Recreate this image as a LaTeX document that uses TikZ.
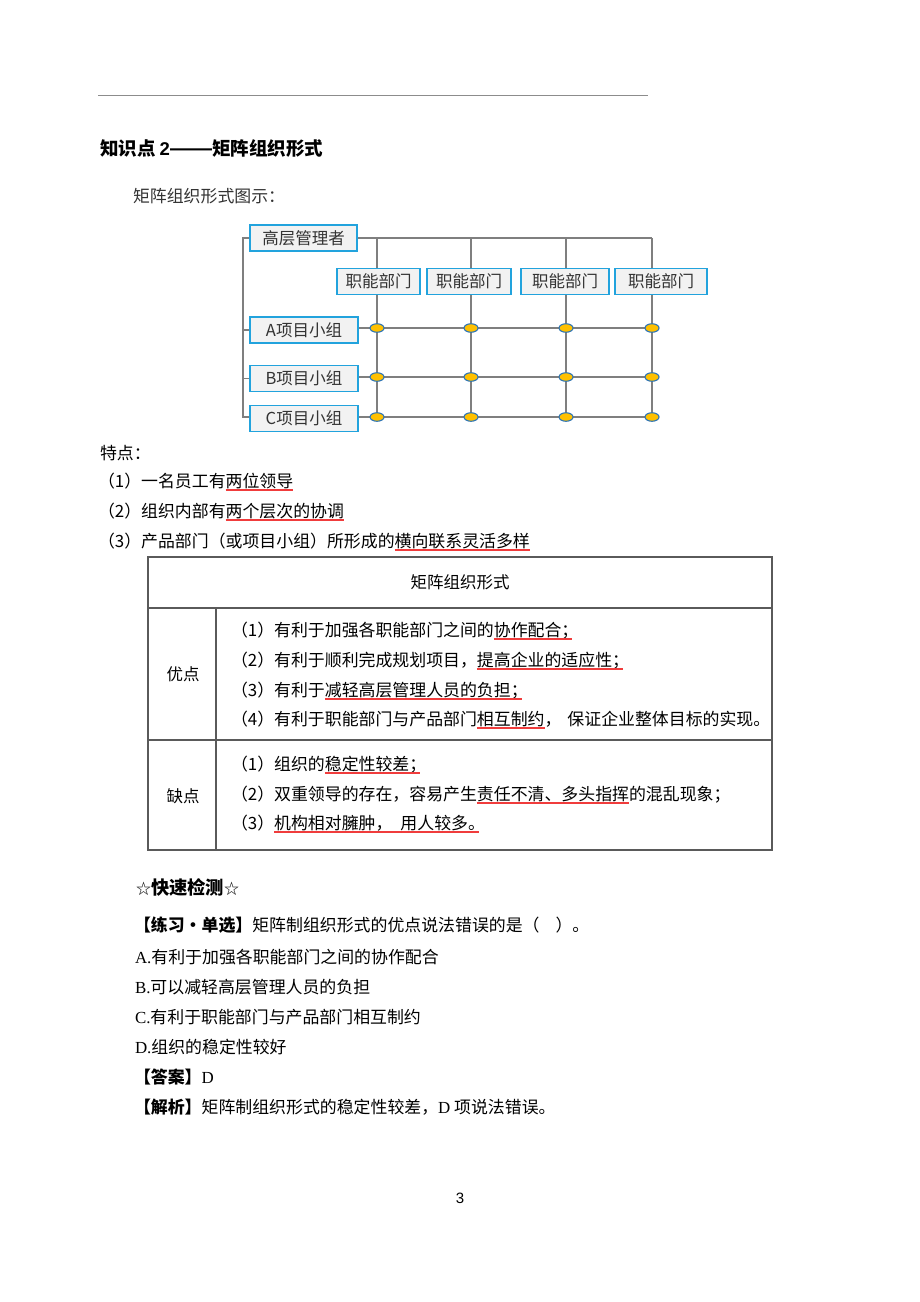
\documentclass[tikz,border=0pt]{standalone}
\usepackage{fontspec}
\setmainfont{Liberation Serif}
\newfontfamily\cjk{Noto Sans CJK SC}
\newfontfamily\sym{DejaVu Sans}
\newfontfamily\lsans{Liberation Sans}
\usetikzlibrary{shapes.geometric}
\pgfdeclarelayer{bg}
\pgfsetlayers{bg,main}
\definecolor{boxblue}{HTML}{22A3DD}
\definecolor{boxfill}{HTML}{F2F2F2}
\definecolor{gridgray}{HTML}{7F7F7F}
\definecolor{dotfill}{HTML}{FFC000}
\definecolor{dotline}{HTML}{2E75B6}
\definecolor{ulred}{HTML}{F03C3C}
\definecolor{tabline}{HTML}{5A5A5A}
\definecolor{labtext}{HTML}{333333}
\definecolor{rulegray}{HTML}{8C8C8C}
\begin{document}
\begin{tikzpicture}[x=1pt,y=-1pt,
  txt/.style={anchor=base west, inner sep=0pt, outer sep=0pt, font=\cjk\fontsize{16.9}{17}\selectfont},
  ctxt/.style={anchor=center, inner sep=0pt, font=\cjk\fontsize{16.5}{17}\selectfont},
  orgbox/.style={draw=boxblue, fill=boxfill, line width=1.5pt, minimum height=26pt, inner sep=0pt, font=\cjk\fontsize{16.5}{16.5}\selectfont, text=labtext},
  gl/.style={draw=gridgray, line width=1.5pt},
  jdot/.style={ellipse, draw=dotline, fill=dotfill, line width=1.1pt, minimum width=14pt, minimum height=8.5pt, inner sep=0pt},
  ul/.style={draw=ulred, line width=1.2pt},
  tab/.style={draw=tabline, line width=1.2pt}]
\begin{pgfonlayer}{bg}
\fill[white] (0,0) rectangle (920,1302);
\end{pgfonlayer}
\useasboundingbox (0,0) rectangle (920,1302);

% top rule
\draw[draw=rulegray, line width=1pt] (98,95) -- (648,95);

% heading
\node[txt, font=\cjk\bfseries\fontsize{18.5}{18.5}\selectfont] (h1) at (100,155) {知识点 {\lsans\bfseries 2{\fontsize{21}{21}\selectfont ——}}矩阵组织形式};
\node[txt, text=black!80] (h2) at (133,202) {矩阵组织形式图示：};

% org chart
\node[orgbox, minimum width=107pt] (top) at (303.5,238) {高层管理者};
\node[orgbox, minimum width=83pt] (f1) at (378.5,281.5) {职能部门};
\node[orgbox, minimum width=84pt] (f2) at (469,281.5) {职能部门};
\node[orgbox, minimum width=88pt] (f3) at (565,281.5) {职能部门};
\node[orgbox, minimum width=92pt] (f4) at (661,281.5) {职能部门};
\node[orgbox, minimum width=108pt] (pa) at (304,330) {A项目小组};
\node[orgbox, minimum width=108pt] (pb) at (304,378.5) {B项目小组};
\node[orgbox, minimum width=108pt] (pc) at (304,418.5) {C项目小组};
\foreach \r/\yy in {A/328,B/377,C/417}
  \foreach \c/\xx in {1/377,2/471,3/566,4/652}
    \node[jdot] (e\r\c) at (\xx,\yy) {};
\coordinate (t1) at (377,238);
\coordinate (t2) at (471,238);
\coordinate (t3) at (566,238);
\coordinate (t4) at (652,238);
\coordinate (s0) at (243,238);
\coordinate (s3) at (243,417);
\begin{pgfonlayer}{bg}
\draw[gl] (top.east) -- (t4);
\foreach \c in {1,2,3,4} \draw[gl] (t\c) -- (eC\c.center);
\draw[gl] (pa.east |- eA1) -- (eA4.center);
\draw[gl] (pb.east |- eB1) -- (eB4.center);
\draw[gl] (pc.east |- eC1) -- (eC4.center);
\draw[gl] (top.west) -- (s0) -- (s3) -- (pc.west |- s3);
\draw[gl] (pa.west -| s0) -- (pa.west);
\draw[gl] (pb.west -| s0) -- (pb.west);
\end{pgfonlayer}

% features
\node[txt] (tz) at (100,459) {特点：};
\node[txt] (a1) at (98,487) {（1）一名员工有};
\node[txt] (a1u) at (a1.base east) {两位领导};
\draw[ul] ([yshift=-3pt]a1u.base west) -- ([yshift=-3pt]a1u.base east);
\node[txt] (a2) at (98,517) {（2）组织内部有};
\node[txt] (a2u) at (a2.base east) {两个层次的协调};
\draw[ul] ([yshift=-3pt]a2u.base west) -- ([yshift=-3pt]a2u.base east);
\node[txt] (a3) at (98,547) {（3）产品部门（或项目小组）所形成的};
\node[txt] (a3u) at (a3.base east) {横向联系灵活多样};
\draw[ul] ([yshift=-3pt]a3u.base west) -- ([yshift=-3pt]a3u.base east);

% table
\draw[tab] (148,557) rectangle (772,850);
\draw[tab] (148,608) -- (772,608);
\draw[tab] (148,740) -- (772,740);
\draw[tab] (216,608) -- (216,850);
\node[ctxt] (th) at (460,582) {矩阵组织形式};
\node[ctxt] (yd) at (183,674) {优点};
\node[ctxt] (qd) at (183,796) {缺点};

\node[txt] (r1) at (231,636) {（1）有利于加强各职能部门之间的};
\node[txt] (r1u) at (r1.base east) {协作配合；};
\draw[ul] ([yshift=-3pt]r1u.base west) -- ([yshift=-3pt,xshift=-6pt]r1u.base east);
\node[txt] (r2) at (231,666) {（2）有利于顺利完成规划项目，\hspace{8pt}};
\node[txt] (r2u) at (r2.base east) {提高企业的适应性；};
\draw[ul] ([yshift=-3pt]r2u.base west) -- ([yshift=-3pt,xshift=-6pt]r2u.base east);
\node[txt] (r3) at (231,696) {（3）有利于};
\node[txt] (r3u) at (r3.base east) {减轻高层管理人员的负担；};
\draw[ul] ([yshift=-3pt]r3u.base west) -- ([yshift=-3pt,xshift=-6pt]r3u.base east);
\node[txt] (r4) at (231,725) {（4）有利于职能部门与产品部门};
\node[txt] (r4u) at (r4.base east) {相互制约};
\node[txt] (r4e) at (r4u.base east) {，\hspace{6pt}保证企业整体目标的实现。};
\draw[ul] ([yshift=-3pt]r4u.base west) -- ([yshift=-3pt]r4u.base east);

\node[txt] (q1) at (231,770) {（1）组织的};
\node[txt] (q1u) at (q1.base east) {稳定性较差；};
\draw[ul] ([yshift=-3pt]q1u.base west) -- ([yshift=-3pt,xshift=-6pt]q1u.base east);
\node[txt] (q2) at (231,800) {（2）双重领导的存在，容易产生};
\node[txt] (q2u) at (q2.base east) {责任不清、多头指挥};
\node[txt] (q2e) at (q2u.base east) {的混乱现象；};
\draw[ul] ([yshift=-3pt]q2u.base west) -- ([yshift=-3pt]q2u.base east);
\node[txt] (q3) at (231,829) {（3）};
\node[txt] (q3u) at (q3.base east) {机构相对臃肿，\hspace{8pt}用人较多。};
\draw[ul] ([yshift=-3pt]q3u.base west) -- ([yshift=-3pt,xshift=-6pt]q3u.base east);

% quiz
\node[txt] (k0) at (136,894) {{\fontsize{15}{15}\selectfont ☆}{\bfseries\fontsize{18.3}{18.3}\selectfont 快速检测}{\fontsize{15}{15}\selectfont ☆}};
\node[txt] (k1) at (134,931) {{\bfseries 【练习•单选】}矩阵制组织形式的优点说法错误的是（\hspace{16pt}）。};
\node[txt] (k2) at (135,963) {{\rmfamily A.}有利于加强各职能部门之间的协作配合};
\node[txt] (k3) at (135,993) {{\rmfamily B.}可以减轻高层管理人员的负担};
\node[txt] (k4) at (135,1023) {{\rmfamily C.}有利于职能部门与产品部门相互制约};
\node[txt] (k5) at (135,1053) {{\rmfamily D.}组织的稳定性较好};
\node[txt] (k6) at (134,1083) {{\bfseries 【答案】}{\rmfamily D}};
\node[txt] (k7) at (134,1113) {{\bfseries 【解析】}矩阵制组织形式的稳定性较差，{\rmfamily D} 项说法错误。};

% page number
\node[font=\lsans\fontsize{15}{15}\selectfont, inner sep=0pt] (pg) at (460,1198) {3};
\end{tikzpicture}
\end{document}
